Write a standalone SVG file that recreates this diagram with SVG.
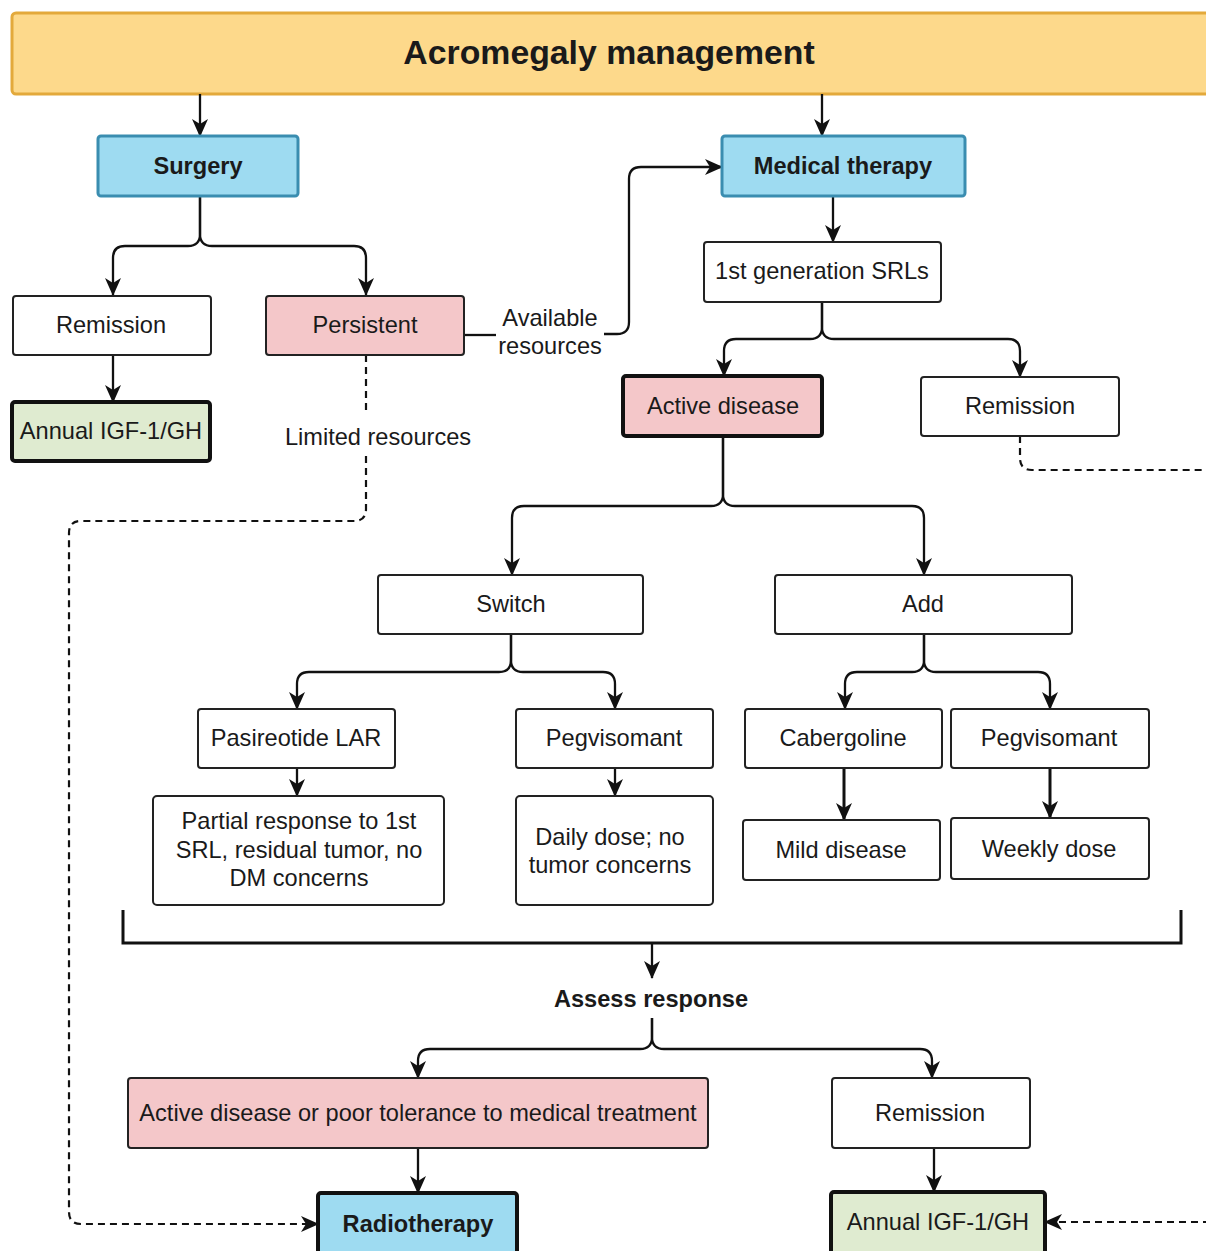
<svg xmlns="http://www.w3.org/2000/svg" width="1206" height="1251" viewBox="0 0 1206 1251">
<defs>
<marker id="ah" markerUnits="userSpaceOnUse" markerWidth="18" markerHeight="18" viewBox="0 0 18 18" refX="17" refY="9" orient="auto">
<path d="M0,1 L18,9 L0,17 L5,9 z" fill="#111"/>
</marker>
<style>
.box{stroke:#222;stroke-width:2}
.thick{stroke:#111;stroke-width:4}
.w{fill:#fff}
.pink{fill:#f4c7c9}
.green{fill:#dfebd0}
.blue{fill:#9edbf1}
.t{font-family:"Liberation Sans",Arial,sans-serif;font-size:23.6px;fill:#1a1a1a;text-anchor:middle}
.b{font-weight:bold}
.c{fill:none;stroke:#111;stroke-width:2.3}
.d{fill:none;stroke:#111;stroke-width:2.2;stroke-dasharray:7,5}
</style>
</defs>
<rect width="1206" height="1251" fill="#fff"/>

<g id="title">
<rect x="12" y="13" width="1212" height="81" rx="4" fill="#fdd98b" stroke="#e3a93b" stroke-width="3"/>
<text class="t b" x="609" y="64" style="font-size:33.8px">Acromegaly management</text>
</g>

<g id="connectors">
<path class="c" d="M200,94 V136" marker-end="url(#ah)"/>
<path class="c" d="M822,94 V136" marker-end="url(#ah)"/>
<path class="c" d="M200,196 V234 Q200,246 188,246 H125 Q113,246 113,258 V295" marker-end="url(#ah)"/>
<path class="c" d="M200,196 V234 Q200,246 212,246 H354 Q366,246 366,258 V295" marker-end="url(#ah)"/>
<path class="c" d="M113,355 V402" marker-end="url(#ah)"/>
<path class="c" d="M464,335 H496"/>
<path class="c" d="M604,334 H617 Q629,334 629,322 V179 Q629,167 641,167 H722" marker-end="url(#ah)"/>
<path class="d" d="M366,355 V412"/>
<path class="d" d="M366,456 V509 Q366,521 354,521 H81 Q69,521 69,533 V1212 Q69,1224 81,1224 H318" marker-end="url(#ah)"/>
<path class="c" d="M833,196 V242" marker-end="url(#ah)"/>
<path class="c" d="M822,302 V327 Q822,339 810,339 H736 Q724,339 724,351 V376" marker-end="url(#ah)"/>
<path class="c" d="M822,302 V327 Q822,339 834,339 H1008 Q1020,339 1020,351 V377" marker-end="url(#ah)"/>
<path class="d" d="M1020,436 V458 Q1020,470 1032,470 H1210"/>
<path class="d" d="M1210,1222 H1045" marker-end="url(#ah)"/>
<path class="c" d="M723,436 V494 Q723,506 711,506 H524 Q512,506 512,518 V575" marker-end="url(#ah)"/>
<path class="c" d="M723,436 V494 Q723,506 735,506 H912 Q924,506 924,518 V575" marker-end="url(#ah)"/>
<path class="c" d="M511,634 V660 Q511,672 499,672 H309 Q297,672 297,684 V709" marker-end="url(#ah)"/>
<path class="c" d="M511,634 V660 Q511,672 523,672 H603 Q615,672 615,684 V709" marker-end="url(#ah)"/>
<path class="c" d="M924,634 V660 Q924,672 912,672 H857 Q845,672 845,684 V709" marker-end="url(#ah)"/>
<path class="c" d="M924,634 V660 Q924,672 936,672 H1038 Q1050,672 1050,684 V709" marker-end="url(#ah)"/>
<path class="c" d="M297,768 V796" marker-end="url(#ah)"/>
<path class="c" d="M615,768 V796" marker-end="url(#ah)"/>
<path class="c" style="stroke-width:3" d="M844,768 V820" marker-end="url(#ah)"/>
<path class="c" style="stroke-width:3" d="M1050,768 V818" marker-end="url(#ah)"/>
<path class="c" style="stroke-width:3" d="M123,910 V943 H1181 V910"/>
<path class="c" d="M652,943 V978" marker-end="url(#ah)"/>
<path class="c" d="M652,1018 V1037 Q652,1049 640,1049 H430 Q418,1049 418,1061 V1078" marker-end="url(#ah)"/>
<path class="c" d="M652,1018 V1037 Q652,1049 664,1049 H920 Q932,1049 932,1061 V1078" marker-end="url(#ah)"/>
<path class="c" d="M418,1148 V1193" marker-end="url(#ah)"/>
<path class="c" d="M934,1148 V1192" marker-end="url(#ah)"/>
<text class="t" x="550" y="326">Available</text>
<text class="t" x="550" y="354">resources</text>
<text class="t" x="378" y="445">Limited resources</text>
<text class="t b" x="651" y="1007">Assess response</text>
</g>

<g id="surgery">
<rect x="98" y="136" width="200" height="60" rx="3" class="blue" stroke="#3a8db0" stroke-width="3"/>
<text class="t b" x="198" y="174">Surgery</text>
</g>
<g id="medical-therapy">
<rect x="722" y="136" width="243" height="60" rx="3" class="blue" stroke="#3a8db0" stroke-width="3"/>
<text class="t b" x="843" y="174">Medical therapy</text>
</g>
<g id="remission-surgery">
<rect x="13" y="296" width="198" height="59" rx="3" class="box w"/>
<text class="t" x="111" y="333">Remission</text>
</g>
<g id="persistent">
<rect x="266" y="296" width="198" height="59" rx="3" class="box pink"/>
<text class="t" x="365" y="333">Persistent</text>
</g>
<g id="annual-surgery">
<rect x="12" y="402" width="198" height="59" rx="3" class="thick green"/>
<text class="t" x="111" y="439">Annual IGF-1/GH</text>
</g>
<g id="srl">
<rect x="704" y="242" width="237" height="60" rx="3" class="box w"/>
<text class="t" x="822" y="279">1st generation SRLs</text>
</g>
<g id="active-disease">
<rect x="623" y="376" width="199" height="60" rx="3" class="thick pink"/>
<text class="t" x="723" y="414">Active disease</text>
</g>
<g id="remission-srl">
<rect x="921" y="377" width="198" height="59" rx="3" class="box w"/>
<text class="t" x="1020" y="414">Remission</text>
</g>
<g id="switch">
<rect x="378" y="575" width="265" height="59" rx="3" class="box w"/>
<text class="t" x="511" y="612">Switch</text>
</g>
<g id="add">
<rect x="775" y="575" width="297" height="59" rx="3" class="box w"/>
<text class="t" x="923" y="612">Add</text>
</g>
<g id="pasireotide">
<rect x="198" y="709" width="197" height="59" rx="3" class="box w"/>
<text class="t" x="296" y="746">Pasireotide LAR</text>
</g>
<g id="pegvisomant-switch">
<rect x="516" y="709" width="197" height="59" rx="3" class="box w"/>
<text class="t" x="614" y="746">Pegvisomant</text>
</g>
<g id="partial-response">
<rect x="153" y="796" width="291" height="109" rx="4" class="box w"/>
<text class="t" x="299" y="829">Partial response to 1st</text>
<text class="t" x="299" y="858">SRL, residual tumor, no</text>
<text class="t" x="299" y="886">DM concerns</text>
</g>
<g id="daily-dose">
<rect x="516" y="796" width="197" height="109" rx="4" class="box w"/>
<text class="t" x="610" y="845">Daily dose; no</text>
<text class="t" x="610" y="873">tumor concerns</text>
</g>
<g id="cabergoline">
<rect x="745" y="709" width="197" height="59" rx="3" class="box w"/>
<text class="t" x="843" y="746">Cabergoline</text>
</g>
<g id="pegvisomant-add">
<rect x="951" y="709" width="198" height="59" rx="3" class="box w"/>
<text class="t" x="1049" y="746">Pegvisomant</text>
</g>
<g id="mild-disease">
<rect x="743" y="820" width="197" height="60" rx="3" class="box w"/>
<text class="t" x="841" y="858">Mild disease</text>
</g>
<g id="weekly-dose">
<rect x="951" y="818" width="198" height="61" rx="3" class="box w"/>
<text class="t" x="1049" y="857">Weekly dose</text>
</g>
<g id="active-or-poor">
<rect x="128" y="1078" width="580" height="70" rx="3" class="box pink"/>
<text class="t" x="418" y="1121">Active disease or poor tolerance to medical treatment</text>
</g>
<g id="remission-final">
<rect x="832" y="1078" width="198" height="70" rx="3" class="box w"/>
<text class="t" x="930" y="1121">Remission</text>
</g>
<g id="radiotherapy">
<rect x="318" y="1193" width="199" height="75" rx="3" class="blue" stroke="#111" stroke-width="4"/>
<text class="t b" x="418" y="1232">Radiotherapy</text>
</g>
<g id="annual-final">
<rect x="831" y="1192" width="214" height="75" rx="3" class="thick green"/>
<text class="t" x="938" y="1230">Annual IGF-1/GH</text>
</g>
</svg>
